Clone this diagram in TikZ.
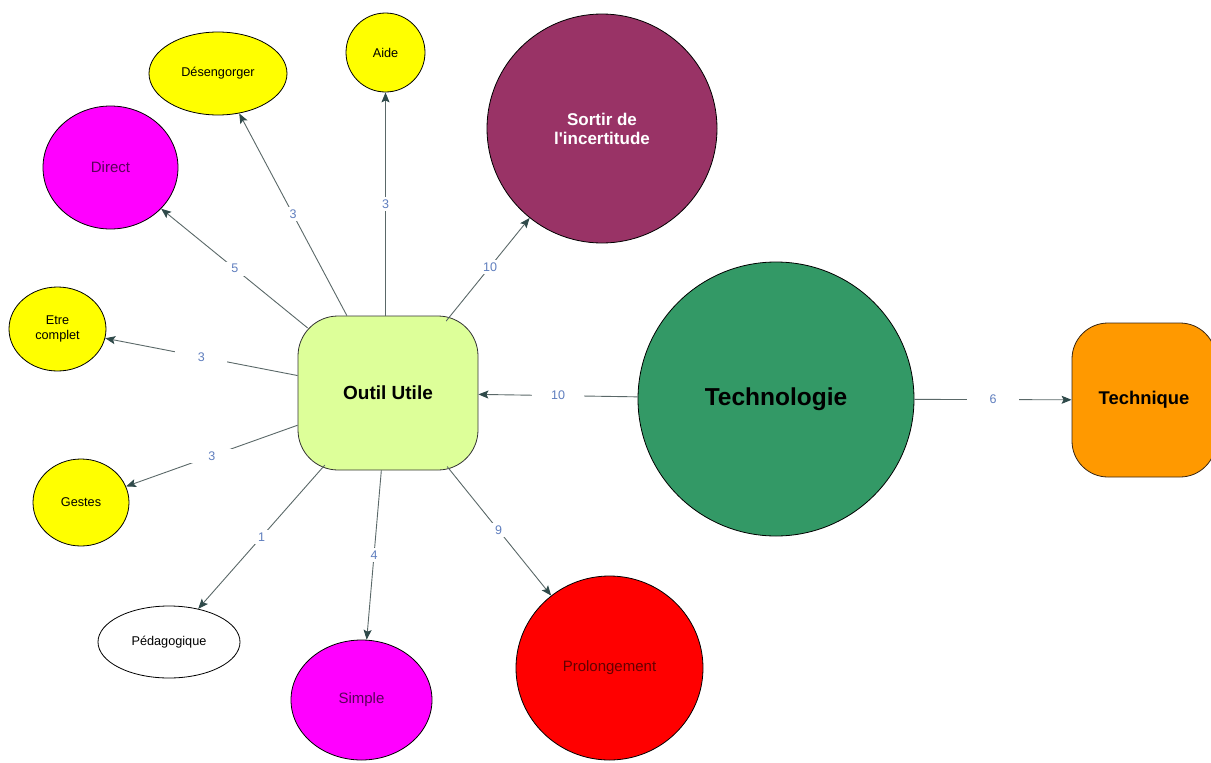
\documentclass[tikz,border=0pt]{standalone}
\usepackage{fontspec}
\setmainfont{Liberation Sans}
\usetikzlibrary{shapes.geometric,arrows.meta}
\definecolor{cyellow}{HTML}{FFFF00}
\definecolor{cmagenta}{HTML}{FF00FF}
\definecolor{cmaroon}{HTML}{993366}
\definecolor{cgreen}{HTML}{339966}
\definecolor{cred}{HTML}{FF0000}
\definecolor{corange}{HTML}{FF9900}
\definecolor{clime}{HTML}{DDFF99}
\definecolor{cline}{HTML}{5A6868}
\definecolor{carrow}{HTML}{2F4A4A}
\definecolor{clabel}{HTML}{5F7EBE}
\definecolor{cpurpletext}{HTML}{5A005A}
\definecolor{credtext}{HTML}{640000}
\tikzset{
  bubble/.style={ellipse, draw=black, line width=0.8pt, inner sep=0pt},
  smalltext/.style={font=\fontsize{12.7}{15}\selectfont},
  midtext/.style={font=\fontsize{15}{18}\selectfont},
  roundbox/.style={rectangle, draw=black!80, line width=0.8pt, inner sep=0pt},
  link/.style={draw=cline, line width=0.9pt, -{Stealth[length=10pt,width=8pt,inset=2pt,color=carrow]}},
  lbl/.style={fill=white, text=clabel, font=\fontsize{12.5}{14}\selectfont, minimum width=52pt, minimum height=14pt, inner sep=0pt},
}
\begin{document}
\begin{tikzpicture}[x=1pt,y=-1pt]
\useasboundingbox (0,0) rectangle (1211,763);
% nodes
\node[bubble, fill=cyellow, smalltext, minimum width=138pt, minimum height=83pt] (deseng) at (218,73.5) {Désengorger};
\node[bubble, fill=cyellow, smalltext, minimum width=79pt, minimum height=79pt] (aide) at (385.5,52.5) {Aide};
\node[bubble, fill=cmagenta, midtext, text=cpurpletext, minimum width=135pt, minimum height=123pt] (direct) at (110.5,167.5) {Direct};
\node[bubble, fill=cyellow, smalltext, align=center, minimum width=97pt, minimum height=84pt] (etre) at (57.5,329) {Etre\\complet};
\node[bubble, fill=cyellow, smalltext, minimum width=96pt, minimum height=87pt] (gestes) at (81,502.5) {Gestes};
\node[bubble, fill=white, smalltext, minimum width=142pt, minimum height=72pt] (peda) at (169,642) {Pédagogique};
\node[bubble, fill=cmagenta, midtext, text=cpurpletext, minimum width=141pt, minimum height=120pt] (simple) at (361.5,700) {Simple};
\node[bubble, fill=cmaroon, text=white, align=center, font=\bfseries\fontsize{17}{19}\selectfont, minimum width=230pt, minimum height=229pt] (sortir) at (602,128.5) {Sortir de\\l\textquotesingle incertitude};
\node[bubble, fill=cgreen, font=\bfseries\fontsize{24.5}{28}\selectfont, minimum width=276pt, minimum height=274pt] (techno) at (776,399) {Technologie};
\node[bubble, fill=cred, midtext, text=credtext, minimum width=187pt, minimum height=184pt] (prolong) at (609.5,668) {Prolongement};
\node[roundbox, fill=clime, rounded corners=40pt, font=\bfseries\fontsize{19}{22}\selectfont, minimum width=180pt, minimum height=154pt] (outil) at (388,393) {Outil Utile};
\node[roundbox, fill=corange, draw=black!70!brown, rounded corners=36pt, font=\bfseries\fontsize{18.4}{22}\selectfont, minimum width=144pt, minimum height=154pt] (technique) at (1144,400) {Technique};
% connectors
\draw[link] (outil) -- node[lbl] {3} (deseng);
\draw[link] (outil.north -| aide) -- node[lbl] {3} (aide);
\draw[link, shorten <=-13pt] (outil) -- node[lbl, pos=0.46] {5} (direct);
\draw[link] (outil) -- node[lbl] {3} (etre);
\draw[link] (outil) -- node[lbl] {3} (gestes);
\draw[link, shorten <=-7pt] (outil) -- node[lbl, pos=0.48] {1} (peda);
\draw[link] (outil) -- node[lbl] {4} (simple);
\draw[link, shorten <=-5pt] (outil) -- node[lbl, pos=0.48] {9} (prolong);
\draw[link, shorten <=-7pt] (outil) -- node[lbl] {10} (sortir);
\draw[link] (techno) -- node[lbl] {10} (outil);
\draw[link] (techno) -- node[lbl] {6} (technique);
\end{tikzpicture}
\end{document}
